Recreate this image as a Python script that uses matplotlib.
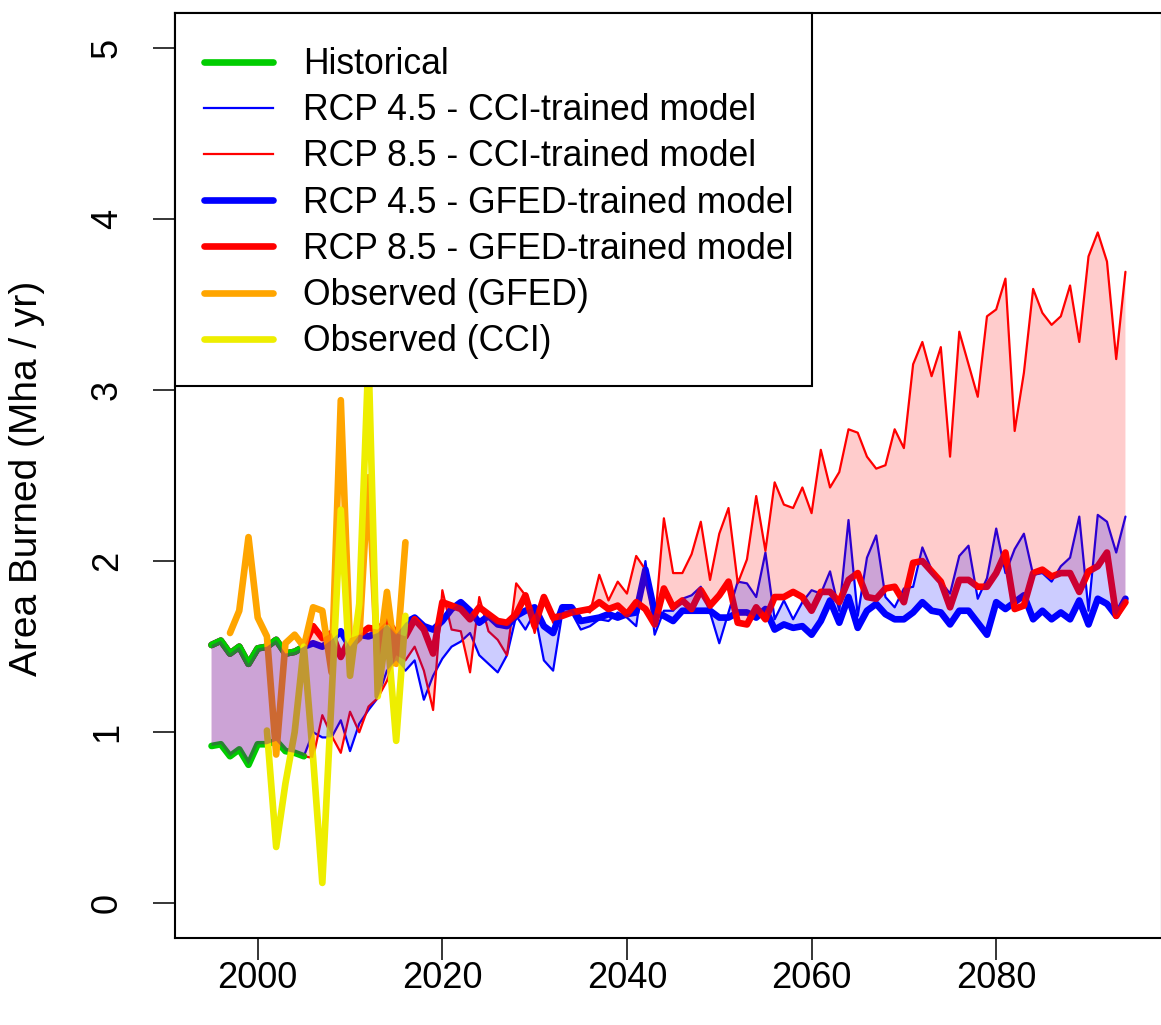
import numpy as np
import matplotlib
matplotlib.use("Agg")
import matplotlib.pyplot as plt
from matplotlib.lines import Line2D
from matplotlib.patches import Rectangle

plt.rcParams['font.family'] = ['Liberation Sans', 'DejaVu Sans']

# ---------------- data ----------------
hist_years = list(range(1995, 2006))
hist_gfed = [1.51, 1.535, 1.46, 1.50, 1.40, 1.49, 1.50, 1.54, 1.46, 1.47, 1.50]
hist_cci = [0.92, 0.93, 0.86, 0.90, 0.81, 0.93, 0.93, 0.95, 0.89, 0.88, 0.86]

proj_years = list(range(2006, 2095))
rcp85_gfed = [1.62, 1.55, 1.58, 1.44, 1.55, 1.57, 1.61, 1.60, 1.65, 1.58,
              1.56, 1.66, 1.60, 1.46, 1.76, 1.74, 1.72, 1.66, 1.73, 1.69,
              1.65, 1.64, 1.69, 1.80, 1.62, 1.79, 1.67, 1.68, 1.70, 1.71,
              1.72, 1.76, 1.72, 1.74, 1.69, 1.76, 1.72, 1.63, 1.84, 1.73,
              1.77, 1.72, 1.83, 1.74, 1.80, 1.88, 1.64, 1.63, 1.73, 1.66,
              1.79, 1.79, 1.82, 1.79, 1.71, 1.82, 1.82, 1.76, 1.89, 1.93,
              1.79, 1.78, 1.84, 1.85, 1.76, 1.99, 2.00, 1.94, 1.88, 1.73,
              1.89, 1.89, 1.85, 1.85, 1.93, 2.05, 1.72, 1.74, 1.93, 1.95,
              1.91, 1.93, 1.93, 1.82, 1.94, 1.97, 2.05, 1.68, 1.76]
rcp45_gfed = [1.52, 1.50, 1.54, 1.59, 1.50, 1.57, 1.56, 1.58, 1.63, 1.57,
              1.64, 1.67, 1.62, 1.60, 1.65, 1.72, 1.76, 1.71, 1.64, 1.68,
              1.63, 1.62, 1.68, 1.71, 1.73, 1.62, 1.58, 1.73, 1.73, 1.65,
              1.66, 1.67, 1.69, 1.67, 1.69, 1.70, 1.95, 1.70, 1.68, 1.65,
              1.71, 1.71, 1.71, 1.71, 1.67, 1.67, 1.70, 1.70, 1.67, 1.72,
              1.60, 1.63, 1.61, 1.62, 1.57, 1.65, 1.77, 1.64, 1.79, 1.61,
              1.71, 1.75, 1.69, 1.66, 1.66, 1.70, 1.76, 1.71, 1.70, 1.63,
              1.71, 1.71, 1.64, 1.57, 1.76, 1.72, 1.76, 1.80, 1.66, 1.71,
              1.66, 1.70, 1.66, 1.77, 1.63, 1.78, 1.75, 1.68, 1.78]
rcp45_cci = [1.00, 0.97, 0.97, 1.07, 0.89, 1.05, 1.13, 1.20, 1.36, 1.42,
             1.36, 1.42, 1.19, 1.33, 1.43, 1.50, 1.53, 1.58, 1.45, 1.40,
             1.35, 1.45, 1.68, 1.60, 1.70, 1.42, 1.36, 1.70, 1.70, 1.60,
             1.62, 1.66, 1.65, 1.70, 1.67, 1.62, 2.00, 1.57, 1.71, 1.71,
             1.78, 1.80, 1.85, 1.70, 1.52, 1.70, 1.88, 1.87, 1.79, 2.05,
             1.66, 1.77, 1.66, 1.76, 1.83, 1.81, 1.94, 1.71, 2.24, 1.68,
             2.02, 2.15, 1.79, 1.73, 1.84, 1.85, 2.08, 1.95, 1.88, 1.81,
             2.03, 2.09, 1.78, 1.90, 2.19, 1.93, 2.07, 2.16, 1.92, 1.93,
             1.88, 1.97, 2.02, 2.26, 1.71, 2.27, 2.23, 2.05, 2.26]
rcp85_cci = [0.85, 1.10, 0.98, 0.88, 1.12, 1.00, 1.15, 1.20, 1.30, 1.45,
             1.42, 1.50, 1.36, 1.13, 1.83, 1.60, 1.59, 1.35, 1.79, 1.59,
             1.54, 1.45, 1.87, 1.80, 1.58, 1.80, 1.64, 1.70, 1.69, 1.72,
             1.70, 1.92, 1.77, 1.88, 1.81, 2.03, 1.95, 1.62, 2.25, 1.93,
             1.93, 2.04, 2.23, 1.89, 2.16, 2.31, 1.87, 2.01, 2.38, 2.06,
             2.46, 2.33, 2.31, 2.43, 2.28, 2.65, 2.43, 2.52, 2.77, 2.75,
             2.61, 2.54, 2.56, 2.77, 2.66, 3.15, 3.28, 3.08, 3.25, 2.61,
             3.34, 3.15, 2.96, 3.43, 3.47, 3.65, 2.76, 3.10, 3.59, 3.45,
             3.38, 3.43, 3.61, 3.28, 3.78, 3.92, 3.75, 3.18, 3.69]

obs_gfed_years = list(range(1997, 2017))
obs_gfed = [1.58, 1.71, 2.14, 1.67, 1.56, 0.87, 1.52, 1.57, 1.50, 1.73,
            1.71, 1.35, 2.94, 1.50, 1.55, 2.49, 1.40, 1.82, 1.40, 2.11]
obs_cci_years = list(range(2001, 2017))
obs_cci = [1.01, 0.33, 0.70, 1.00, 1.50, 0.85, 0.12, 1.20, 2.30, 1.33,
           1.75, 3.20, 1.21, 1.61, 0.95, 1.68]

legend_labels = ["Historical", "RCP 4.5 - CCI-trained model", "RCP 8.5 - CCI-trained model",
                 "RCP 4.5 - GFED-trained model", "RCP 8.5 - GFED-trained model",
                 "Observed (GFED)", "Observed (CCI)"]
x_ticks = [2000, 2020, 2040, 2060, 2080]
y_ticks = [0, 1, 2, 3, 4, 5]

# ---------------- styling ----------------
GREEN = "#00CD00"
BLUE = "#0000FF"
RED = "#FF0000"
ORANGE = "#FFA500"
YELLOW = "#EEEE00"
THICK = 4.8
THIN = 1.6
FS = 26

W, H = 1161, 1025
fig = plt.figure(figsize=(W / 100, H / 100), dpi=100)
ax = fig.add_axes([175 / W, 87.3 / H, (1162 - 175) / W, (937.7 - 13.3) / H])

all_years = np.array(hist_years + proj_years)
s45_cci = np.array(hist_cci + rcp45_cci)
s85_cci = np.array(hist_cci + rcp85_cci)
s45_gfed = np.array(hist_gfed + rcp45_gfed)
s85_gfed = np.array(hist_gfed + rcp85_gfed)

kw = dict(solid_capstyle='round', solid_joinstyle='round')
ax.plot(all_years, s45_cci, color=BLUE, lw=THIN, zorder=2, **kw)
ax.plot(all_years, s85_cci, color=RED, lw=THIN, zorder=2.1, **kw)
ax.plot(all_years, s45_gfed, color=BLUE, lw=THICK, zorder=2.2, **kw)
ax.plot(all_years, s85_gfed, color=RED, lw=THICK, zorder=2.3, **kw)
ax.plot(hist_years, hist_gfed, color=GREEN, lw=THICK, zorder=2.4, **kw)
ax.plot(hist_years, hist_cci, color=GREEN, lw=THICK, zorder=2.4, **kw)
ax.plot(obs_gfed_years, obs_gfed, color=ORANGE, lw=THICK, zorder=2.5, **kw)
ax.plot(obs_cci_years, obs_cci, color=YELLOW, lw=THICK, zorder=2.6, **kw)

ax.fill_between(all_years, s85_cci, s85_gfed, facecolor=RED, alpha=0.2, lw=0, zorder=3)
ax.fill_between(all_years, s45_cci, s45_gfed, facecolor=BLUE, alpha=0.2, lw=0, zorder=3.1)

ax.set_xlim(1991.04, 2097.96)
ax.set_ylim(-0.2, 5.2)
ax.set_xticks(x_ticks)
ax.set_yticks(y_ticks)
ax.set_xticklabels([str(t) for t in x_ticks])
ax.set_yticklabels([str(t) for t in y_ticks])
ax.tick_params(axis='both', direction='out', length=16, width=1.1, labelsize=FS, colors='black')
ax.tick_params(axis='y', labelrotation=90, pad=20)
ax.tick_params(axis='x', pad=1)
for lbl in ax.get_yticklabels():
    lbl.set_va('center')
for sp in ax.spines.values():
    sp.set_linewidth(1.5)

fig.text(27 / W, 1 - 478 / H, "Area Burned (Mha / yr)", rotation=90,
         ha='center', va='center', fontsize=28)

# legend: white box with black border, entries placed inside
box = Rectangle((175 / W, 1 - 386 / H), (812 - 175) / W, (386 - 13.3) / H,
                transform=fig.transFigure, facecolor='white', edgecolor='black',
                linewidth=1.5, zorder=9, clip_on=False)
ax.add_patch(box)

handles = [Line2D([], [], color=GREEN, lw=THICK, solid_capstyle='round'),
           Line2D([], [], color=BLUE, lw=THIN),
           Line2D([], [], color=RED, lw=THIN),
           Line2D([], [], color=BLUE, lw=THICK, solid_capstyle='round'),
           Line2D([], [], color=RED, lw=THICK, solid_capstyle='round'),
           Line2D([], [], color=ORANGE, lw=THICK, solid_capstyle='round'),
           Line2D([], [], color=YELLOW, lw=THICK, solid_capstyle='round')]
leg = ax.legend(handles, legend_labels, loc='upper left',
                bbox_to_anchor=(203.6 / W, 1 - 47 / H), bbox_transform=fig.transFigure,
                borderaxespad=0, frameon=False, fontsize=25.6,
                handlelength=1.95, handletextpad=0.85, borderpad=0,
                labelspacing=0.315)
leg.set_zorder(10)

fig.savefig("out.png", dpi=100)
